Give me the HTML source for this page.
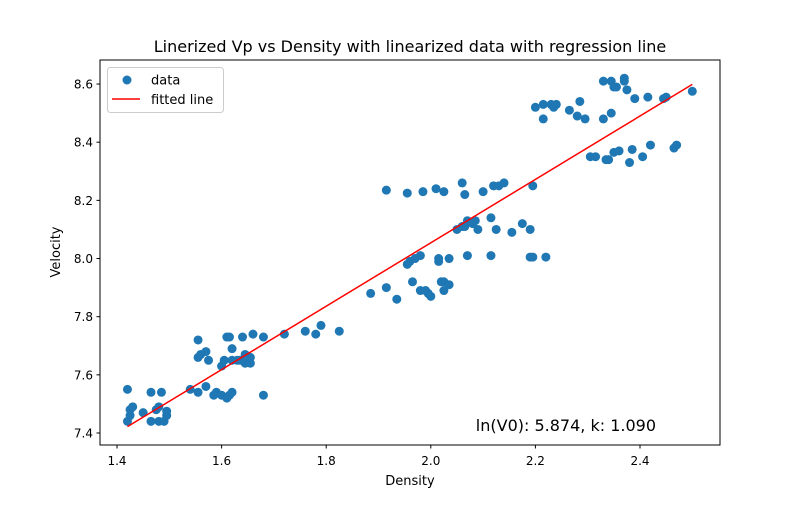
<!DOCTYPE html>
<html><head><meta charset="utf-8"><style>
body{margin:0;background:#fff;}
svg text{font-family:"DejaVu Sans","Liberation Sans",sans-serif;}
</style></head><body>
<svg id="chart" width="800" height="500">
<rect x="0" y="0" width="800" height="500" fill="#fff"/>
<g id="marks"></g>
<rect x="100" y="60" width="620" height="385" fill="none" stroke="#000" stroke-width="1"/>
<g id="axes"></g>
<text x="410" y="52" text-anchor="middle" font-size="16">Linerized Vp vs Density with linearized data with regression line</text>
<text x="410" y="485" text-anchor="middle" font-size="13">Density</text>
<text x="60" y="252" text-anchor="middle" font-size="13" transform="rotate(-90 60 252)">Velocity</text>
<text x="656" y="431" text-anchor="end" font-size="16">ln(V0): 5.874, k: 1.090</text>
<g>
<rect x="107.5" y="67.5" width="116" height="45" rx="3" fill="#fff" fill-opacity="0.8" stroke="#ccc"/>
<circle cx="127" cy="80" r="4.5" fill="#1f77b4"/>
<text x="151" y="84.5" font-size="13">data</text>
<line x1="112" y1="99" x2="140" y2="99" stroke="red" stroke-width="1.5"/>
<text x="151" y="104" font-size="13">fitted line</text>
</g>
</svg>
<script>
const densities=[1.42,1.425,1.425,1.43,1.42,1.45,1.465,1.465,1.475,1.48,1.48,1.485,1.49,1.495,1.495,
1.54,1.555,1.57,1.585,1.59,1.6,1.61,1.615,1.62,1.645,1.655,1.68,1.655,1.62,1.63,1.635,1.645,
1.555,1.56,1.555,1.57,1.575,1.6,1.605,1.61,1.615,1.62,1.64,1.66,1.68,1.72,1.76,1.78,1.79,1.825,
1.885,1.915,1.935,1.955,1.96,1.965,1.97,1.98,1.98,1.99,1.995,2.0,2.015,2.015,2.02,2.025,2.025,2.035,2.035,2.05,2.06,2.065,2.07,2.08,2.085,2.09,2.07,2.115,2.115,2.125,2.155,2.175,2.19,2.19,2.195,2.22,
1.915,1.955,1.985,2.01,2.025,2.06,2.065,2.1,2.12,2.13,2.14,2.195,
2.2,2.215,2.215,2.23,2.235,2.24,2.265,2.28,2.285,2.295,2.305,2.315,2.33,2.33,2.335,2.34,2.345,2.345,2.35,2.35,2.36,2.355,2.37,2.37,2.375,2.38,2.385,2.39,2.405,2.415,2.42,2.445,2.45,2.465,2.47,2.5];
const velocities=[7.44,7.46,7.48,7.49,7.55,7.47,7.54,7.44,7.48,7.49,7.44,7.54,7.44,7.46,7.475,
7.55,7.54,7.56,7.53,7.54,7.53,7.52,7.53,7.54,7.64,7.64,7.53,7.66,7.65,7.65,7.65,7.67,
7.66,7.67,7.72,7.68,7.65,7.63,7.65,7.73,7.73,7.69,7.73,7.74,7.73,7.74,7.75,7.74,7.77,7.75,
7.88,7.9,7.86,7.98,7.99,7.92,8.0,8.01,7.89,7.89,7.88,7.87,7.99,8.0,7.92,7.92,7.89,7.91,8.0,8.1,8.11,8.11,8.13,8.12,8.13,8.1,8.01,8.01,8.14,8.1,8.09,8.12,8.1,8.005,8.005,8.005,
8.235,8.225,8.23,8.24,8.23,8.26,8.22,8.23,8.25,8.25,8.26,8.25,
8.52,8.48,8.53,8.53,8.52,8.53,8.51,8.49,8.54,8.48,8.35,8.35,8.48,8.61,8.34,8.34,8.61,8.5,8.59,8.365,8.37,8.59,8.61,8.62,8.58,8.33,8.375,8.55,8.35,8.555,8.39,8.55,8.555,8.38,8.39,8.575];
const intercept=5.874;
const slope=1.090;
const xTicks=[1.4,1.6,1.8,2.0,2.2,2.4];
const yTicks=[7.4,7.6,7.8,8.0,8.2,8.4,8.6];
const xTickLabels=["1.4","1.6","1.8","2.0","2.2","2.4"];
const yTickLabels=["7.4","7.6","7.8","8.0","8.2","8.4","8.6"];

const NS="http://www.w3.org/2000/svg";
function sx(v){return 117+(v-1.4)*523;}
function sy(v){return 433-(v-7.4)*290.8;}
const marks=document.getElementById('marks');
const axes=document.getElementById('axes');
densities.forEach((d,i)=>{
  const c=document.createElementNS(NS,'circle');
  c.setAttribute('cx',sx(d));c.setAttribute('cy',sy(velocities[i]));
  c.setAttribute('r',4.5);c.setAttribute('fill','#1f77b4');
  
  
  marks.appendChild(c);
});
const xmin=Math.min(...densities),xmax=Math.max(...densities);
const ln=document.createElementNS(NS,'line');
ln.setAttribute('x1',sx(xmin));ln.setAttribute('y1',sy(intercept+slope*xmin));
ln.setAttribute('x2',sx(xmax));ln.setAttribute('y2',sy(intercept+slope*xmax));
ln.setAttribute('stroke','red');ln.setAttribute('stroke-width','1.5');


marks.appendChild(ln);
xTicks.forEach((t,i)=>{
  const l=document.createElementNS(NS,'line');
  l.setAttribute('x1',sx(t));l.setAttribute('x2',sx(t));l.setAttribute('y1',445);l.setAttribute('y2',448.5);
  l.setAttribute('stroke','#000');
  
  
  axes.appendChild(l);
  const tx=document.createElementNS(NS,'text');
  tx.setAttribute('x',sx(t));tx.setAttribute('y',465);tx.setAttribute('text-anchor','middle');tx.setAttribute('font-size','12');
  tx.textContent=xTickLabels[i];
  
  
  axes.appendChild(tx);
});
yTicks.forEach((t,i)=>{
  const l=document.createElementNS(NS,'line');
  l.setAttribute('x1',96.5);l.setAttribute('x2',100);l.setAttribute('y1',sy(t));l.setAttribute('y2',sy(t));
  l.setAttribute('stroke','#000');
  
  
  axes.appendChild(l);
  const tx=document.createElementNS(NS,'text');
  tx.setAttribute('x',93);tx.setAttribute('y',sy(t)+4.5);tx.setAttribute('text-anchor','end');tx.setAttribute('font-size','12');
  tx.textContent=yTickLabels[i];
  
  
  axes.appendChild(tx);
});
</script>
</body></html>
